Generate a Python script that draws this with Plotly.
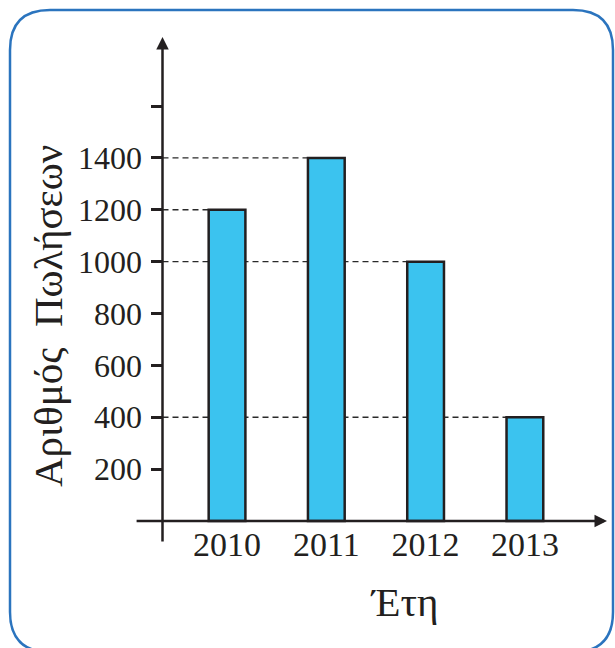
import plotly.graph_objects as go

# ---- data ----
years = ["2010", "2011", "2012", "2013"]
sales = [1200, 1400, 1000, 400]
y_tick_vals = [200, 400, 600, 800, 1000, 1200, 1400, 1600]
y_tick_text = ["200", "400", "600", "800", "1000", "1200", "1400", ""]
x_title = "Έτη"
y_title = "Αριθμός  Πωλήσεων"

# ---- layout constants ----
W, H = 615, 648
ML, MR, MT, MB = 134, 6, 36, 105
PW, PH = W - ML - MR, H - MT - MB
XR = [-0.937, 3.847]
YR = [-84.8, 1870]
Y_AXIS_AT = -0.65
BAR_W = 0.37
INK = "#231F20"
FONT = "Liberation Serif"

xpos = list(range(len(years)))

fig = go.Figure()
fig.add_trace(go.Bar(
    x=xpos, y=sales, width=BAR_W,
    marker=dict(color="#3BC3EF", line=dict(color=INK, width=2.5)),
    hoverinfo="skip", showlegend=False,
))

shapes = []
for i, v in zip(xpos, sales):
    shapes.append(dict(type="line", xref="x", yref="y", layer="below",
                       x0=Y_AXIS_AT, x1=i - BAR_W / 2, y0=v, y1=v,
                       line=dict(color="#2a2a2a", width=1.3, dash="6px,4px")))

def px2paper(px, py):
    return (px - ML) / PW, 1 - (py - MT) / PH

def rounded(x0, y0, x1, y1, r):
    def P(x, y):
        a, b = px2paper(x, y)
        return f"{a:.5f},{b:.5f}"
    p = f"M{P(x0 + r, y0)} L{P(x1 - r, y0)} Q{P(x1, y0)} {P(x1, y0 + r)} "
    p += f"L{P(x1, y1 - r)} Q{P(x1, y1)} {P(x1 - r, y1)} "
    p += f"L{P(x0 + r, y1)} Q{P(x0, y1)} {P(x0, y1 - r)} "
    p += f"L{P(x0, y0 + r)} Q{P(x0, y0)} {P(x0 + r, y0)} Z"
    return p

shapes.append(dict(type="path", xref="paper", yref="paper", layer="below",
                   path=rounded(10, 10, 613, 652, 40),
                   line=dict(color="#2B74BE", width=2.5)))

yt = px2paper(48, 316)
xt = px2paper(404, 602)
annotations = [
    dict(x=Y_AXIS_AT, y=1866, ax=Y_AXIS_AT, ay=YR[0], xref="x", yref="y",
         axref="x", ayref="y", showarrow=True, arrowhead=2, arrowsize=1,
         arrowwidth=2.5, arrowcolor=INK, text=""),
    dict(x=3.827, y=0, ax=-0.926, ay=0, xref="x", yref="y",
         axref="x", ayref="y", showarrow=True, arrowhead=2, arrowsize=1,
         arrowwidth=2.5, arrowcolor=INK, text=""),
    dict(text=y_title, xref="paper", yref="paper", x=yt[0], y=yt[1],
         xanchor="center", yanchor="middle",
         textangle=-90, showarrow=False,
         font=dict(family=FONT, size=41, color=INK)),
    dict(text=x_title, xref="paper", yref="paper", x=xt[0], y=xt[1],
         xanchor="center", yanchor="middle",
         showarrow=False, font=dict(family=FONT, size=41, color=INK)),
]

ypos_paper = (Y_AXIS_AT - XR[0]) / (XR[1] - XR[0])
xpos_paper = (0 - YR[0]) / (YR[1] - YR[0])

fig.update_layout(
    width=W, height=H,
    margin=dict(l=ML, r=MR, t=MT, b=MB),
    paper_bgcolor="white", plot_bgcolor="white",
    shapes=shapes, annotations=annotations,
    xaxis=dict(range=XR, tickvals=xpos, ticktext=years, showgrid=False,
               zeroline=False, showline=False, anchor="free",
               position=xpos_paper, ticks="",
               tickfont=dict(family=FONT, size=34, color=INK)),
    yaxis=dict(range=YR, tickvals=y_tick_vals, ticktext=y_tick_text,
               showgrid=False, zeroline=False, showline=False,
               anchor="free", position=ypos_paper, ticks="outside",
               ticklen=11, tickwidth=2.5, tickcolor=INK,
               ticklabelstandoff=3,
               tickfont=dict(family=FONT, size=32, color=INK)),
)

fig.write_html("out.html",
               config={"displayModeBar": False},
               post_script="document.body.style.margin='0';"
                           "document.documentElement.style.overflow='hidden';")
